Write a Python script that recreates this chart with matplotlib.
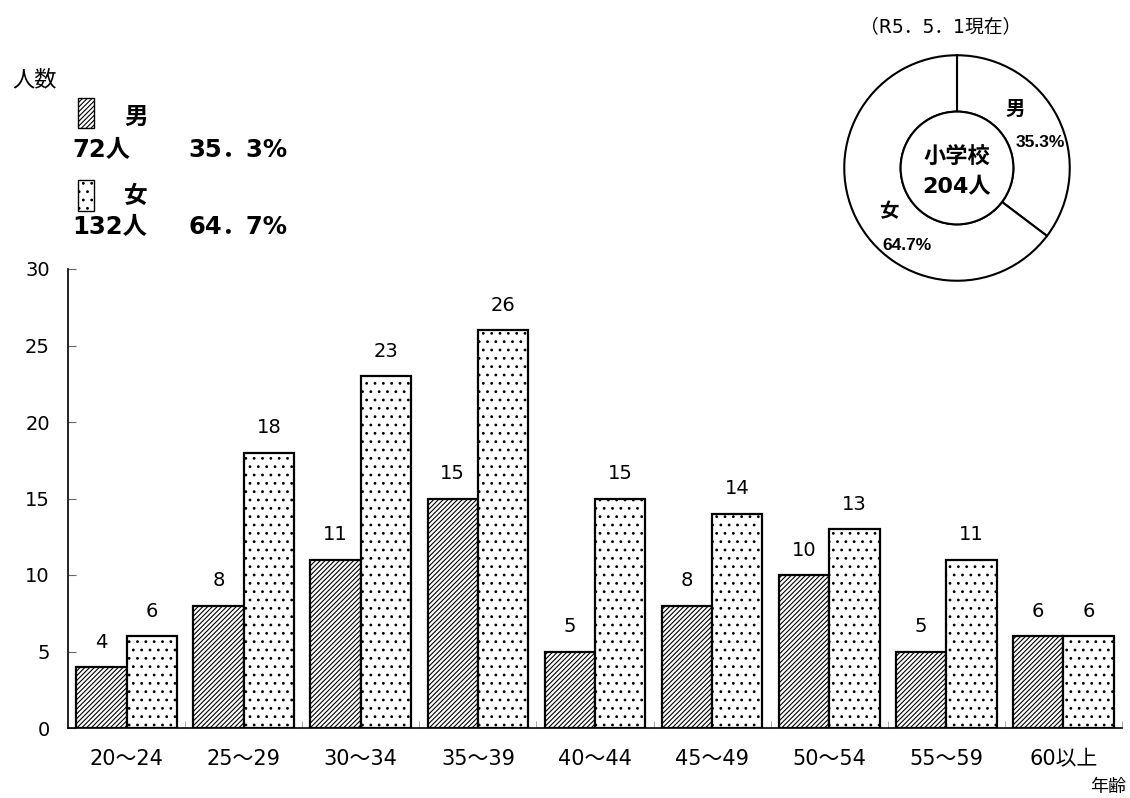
import numpy as np
import matplotlib
matplotlib.use('Agg')
import matplotlib.pyplot as plt
from matplotlib.patches import Rectangle, Circle

plt.rcParams['font.family'] = ['DejaVu Sans', 'Noto Sans CJK JP']
plt.rcParams['hatch.linewidth'] = 0.8

# データ
age_groups = ['20～24', '25～29', '30～34', '35～39', '40～44', '45～49', '50～54', '55～59', '60以上']
male = [4, 8, 11, 15, 5, 8, 10, 5, 6]
female = [6, 18, 23, 26, 15, 14, 13, 11, 6]
pie_labels = ['男', '女']
pie_values = [72, 132]
pie_pct = ['35.3%', '64.7%']
legend_count = ['72人', '132人']
legend_pct = ['35．3%', '64．7%']
center_lines = ['小学校', '204人']

fig = plt.figure(figsize=(11.3, 7.98), dpi=100)

# 棒グラフ
ax = fig.add_axes([68 / 1130, 70 / 798, 1054 / 1130, 459 / 798])
x = np.arange(len(age_groups))
w = 0.43
b1 = ax.bar(x - w / 2, male, w, color='white', edgecolor='black', linewidth=1.6, hatch='///////')
b2 = ax.bar(x + w / 2, female, w, color='white', edgecolor='black', linewidth=1.6, hatch='..')
for bars in (b1, b2):
    for r in bars:
        ax.text(r.get_x() + r.get_width() / 2, r.get_height() + 1.0, str(int(r.get_height())),
                ha='center', va='bottom', fontsize=14)

ax.set_xlim(-0.5, len(age_groups) - 0.5)
ax.set_ylim(0, 30)
ax.set_yticks(range(0, 31, 5))
ax.set_xticks(x)
ax.set_xticklabels(age_groups, fontsize=15)
ax.set_xticks(np.arange(0.5, len(age_groups) - 0.4, 1), minor=True)
ax.tick_params(axis='x', which='major', length=0, pad=15)
ax.tick_params(axis='x', which='minor', direction='in', length=5, color='#999999')
ax.tick_params(axis='y', direction='in', length=6, color='#666666', labelsize=14, pad=13)
for s in ['top', 'right']:
    ax.spines[s].set_visible(False)
ax.spines['left'].set_linewidth(1.2)
ax.spines['bottom'].set_linewidth(1.2)

fig.text(12 / 1130, 1 - 80 / 798, '人数', fontsize=16, va='center')
fig.text(1126 / 1130, 1 - 787 / 798, '年齢', fontsize=13, va='center', ha='right')

# 凡例
ax_leg = fig.add_axes([0, 0, 1, 1], facecolor='none')
ax_leg.set_xlim(0, 1130)
ax_leg.set_ylim(798, 0)
ax_leg.axis('off')
ax_leg.add_patch(Rectangle((78, 98), 16, 30, facecolor='white', edgecolor='black', lw=1, hatch='///////'))
ax_leg.add_patch(Rectangle((78, 180), 16, 31, facecolor='white', edgecolor='black', lw=1, hatch='..'))
ax_leg.text(124, 117, pie_labels[0], fontsize=17, fontweight='bold', va='center')
ax_leg.text(124, 196, pie_labels[1], fontsize=17, fontweight='bold', va='center')
for yy, cnt, pct in zip([150, 227], legend_count, legend_pct):
    ax_leg.text(72, yy, cnt, fontsize=17.5, fontweight='bold', va='center')
    ax_leg.text(188, yy, pct, fontsize=17.5, fontweight='bold', va='center')
ax_leg.text(860, 27, '（R5．5．1現在）', fontsize=13.5, va='center')

# 円グラフ
ax_pie = fig.add_axes([842 / 1130, 1 - 283 / 798, 230 / 1130, 230 / 798])
ax_pie.pie(pie_values, startangle=90, counterclock=False, colors=['white', 'white'],
           wedgeprops=dict(width=0.5, edgecolor='black', linewidth=1.5), radius=1.0)
ax_pie.add_patch(Circle((0, 0), 0.5, facecolor='white', edgecolor='black', lw=1.5))
ax_pie.text(0, 0.1, center_lines[0], ha='center', va='center', fontsize=16, fontweight='bold')
ax_pie.text(0, -0.17, center_lines[1], ha='center', va='center', fontsize=16, fontweight='bold')
ax_pie.text(0.52, 0.52, pie_labels[0], ha='center', va='center', fontsize=14, fontweight='bold')
ax_pie.text(0.74, 0.23, pie_pct[0], ha='center', va='center', fontsize=12.5, fontweight='bold',
            family=['Liberation Sans Narrow', 'Liberation Sans'])
ax_pie.text(-0.6, -0.39, pie_labels[1], ha='center', va='center', fontsize=14, fontweight='bold')
ax_pie.text(-0.44, -0.69, pie_pct[1], ha='center', va='center', fontsize=12.5, fontweight='bold',
            family=['Liberation Sans Narrow', 'Liberation Sans'])
ax_pie.set_xlim(-1.02, 1.02)
ax_pie.set_ylim(-1.02, 1.02)
ax_pie.set_aspect('equal')

fig.savefig('out.png', dpi=100)
